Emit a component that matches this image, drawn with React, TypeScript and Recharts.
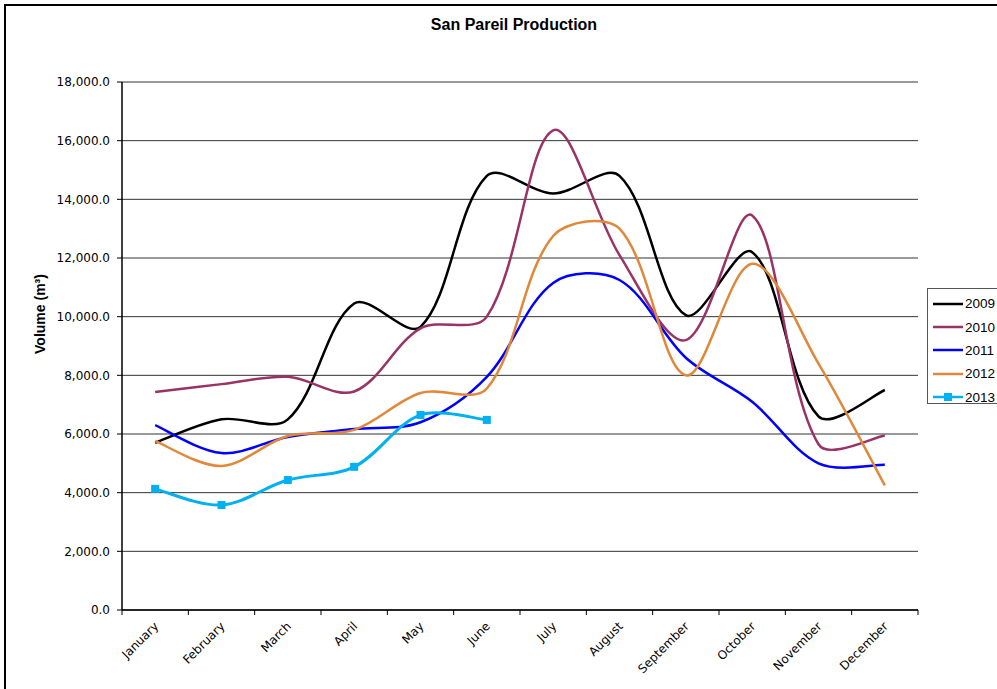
import { LineChart, Line, XAxis, YAxis, CartesianGrid, Legend } from "recharts";

const months = [
  "January",
  "February",
  "March",
  "April",
  "May",
  "June",
  "July",
  "August",
  "September",
  "October",
  "November",
  "December",
];

const y2009 = [5700, 6500, 6500, 10450, 9650, 14800, 14200, 14800, 10050, 12200, 6600, 7500];
const y2010 = [7430, 7700, 7950, 7450, 9600, 10000, 16350, 12100, 9200, 13450, 5650, 5950];
const y2011 = [6300, 5350, 5900, 6170, 6400, 7950, 11150, 11250, 8600, 7100, 5000, 4950];
const y2012 = [5760, 4910, 5930, 6140, 7400, 7550, 12750, 13000, 8000, 11800, 8400, 4250];
const y2013 = [4130, 3580, 4430, 4880, 6650, 6480];

const yTicks = [0, 2000, 4000, 6000, 8000, 10000, 12000, 14000, 16000, 18000];

const series = [
  { key: "2009", color: "#000000" },
  { key: "2010", color: "#993366" },
  { key: "2011", color: "#0000FF" },
  { key: "2012", color: "#E0883A" },
  { key: "2013", color: "#00B0F0" },
];

const data = months.map((month, i) => ({
  month,
  "2009": y2009[i],
  "2010": y2010[i],
  "2011": y2011[i],
  "2012": y2012[i],
  "2013": y2013[i] ?? null,
}));

// excel-ish smoothing: bezier through every point, tangent split by segment length
const excelCurve = (context: any) => {
  let pts: number[][] = [];
  return {
    areaStart() {},
    areaEnd() {},
    lineStart() {
      pts = [];
    },
    point(x: number, y: number) {
      pts.push([+x, +y]);
    },
    lineEnd() {
      const n = pts.length;
      if (!n) return;
      const dist = (a: number[], b: number[]) => Math.hypot(b[0] - a[0], b[1] - a[1]);
      const ctrl = pts.map((p, i) => {
        const prev = pts[i - 1] || p;
        const next = pts[i + 1] || p;
        const lp = dist(prev, p);
        const ln = dist(p, next);
        const dx = next[0] - prev[0];
        const dy = next[1] - prev[1];
        const fo = lp === 0 || ln === 0 ? 0.5 : ln / (lp + ln);
        const fi = lp === 0 || ln === 0 ? 0.5 : lp / (lp + ln);
        return {
          out: [p[0] + (dx * fo) / 3, p[1] + (dy * fo) / 3],
          in: [p[0] - (dx * fi) / 3, p[1] - (dy * fi) / 3],
        };
      });
      context.moveTo(pts[0][0], pts[0][1]);
      for (let i = 0; i < n - 1; i++) {
        const c1 = ctrl[i].out;
        const c2 = ctrl[i + 1].in;
        context.bezierCurveTo(c1[0], c1[1], c2[0], c2[1], pts[i + 1][0], pts[i + 1][1]);
      }
    },
  };
};

const fmt = (v: number) =>
  v.toLocaleString("en-US", { minimumFractionDigits: 1, maximumFractionDigits: 1 });

const MonthTick = (props: any) => {
  const { x, y, payload, index } = props;
  const half = payload.offset || 33;
  const tx = x + 4;
  const ty = y + 17;
  return (
    <g>
      <line x1={x - half} y1={y} x2={x - half} y2={y + 5} stroke="#000" />
      {index === months.length - 1 && (
        <line x1={x + half} y1={y} x2={x + half} y2={y + 5} stroke="#000" />
      )}
      <text
        x={tx}
        y={ty}
        textAnchor="end"
        transform={`rotate(-45 ${tx} ${ty})`}
        fontFamily="DejaVu Sans"
        fontSize={12}
        fill="#000"
      >
        {payload.value}
      </text>
    </g>
  );
};

const LegendBox = () => (
  <div
    style={{
      border: "1px solid #555",
      background: "#fff",
      width: 80,
      height: 116,
      boxSizing: "border-box",
      paddingTop: 3,
    }}
  >
    {series.map((s) => (
      <div
        key={s.key}
        style={{ display: "flex", alignItems: "center", height: 23.4, paddingLeft: 5 }}
      >
        <svg width={32} height={10}>
          <line x1={0} y1={5} x2={30} y2={5} stroke={s.color} strokeWidth={2.5} />
          {s.key === "2013" && <rect x={11} y={1} width={8} height={8} fill={s.color} />}
        </svg>
        <span style={{ fontFamily: "Liberation Sans, Arial", fontSize: 13.5, color: "#000" }}>
          {s.key}
        </span>
      </div>
    ))}
  </div>
);

const SquareDot = (props: any) => {
  const { cx, cy, index } = props;
  if (cx == null || cy == null) return <g key={index} />;
  return <rect key={index} x={cx - 4} y={cy - 4} width={8} height={8} fill="#00B0F0" />;
};

export default function App() {
  return (
    <div
      style={{
        position: "absolute",
        left: 0,
        top: 0,
        width: 997,
        height: 689,
        overflow: "hidden",
        background: "#fff",
      }}
    >
      <div
        style={{
          position: "absolute",
          left: 4,
          top: 4,
          width: 1000,
          height: 700,
          borderTop: "2px solid #000",
          borderLeft: "2px solid #000",
        }}
      />
      <div
        style={{
          position: "absolute",
          left: 0,
          width: 1028,
          top: 16,
          textAlign: "center",
          fontFamily: "Liberation Sans, Arial",
          fontWeight: "bold",
          fontSize: 16,
          color: "#000",
        }}
      >
        San Pareil Production
      </div>
      <LineChart
        width={997}
        height={689}
        data={data}
        margin={{ top: 82, right: 79, bottom: 0, left: 0 }}
      >
        <CartesianGrid vertical={false} stroke="#333" />
        <XAxis
          dataKey="month"
          scale="band"
          interval={0}
          height={79}
          tickSize={0}
          tickMargin={0}
          tick={<MonthTick />}
          axisLine={{ stroke: "#000", strokeWidth: 1.5 }}
        />
        <XAxis
          xAxisId="top"
          orientation="top"
          dataKey="month"
          scale="band"
          height={0}
          tick={false}
          tickLine={false}
          axisLine={{ stroke: "#000", strokeWidth: 1.5 }}
        />
        <YAxis
          width={122}
          domain={[0, 18000]}
          ticks={yTicks}
          tickFormatter={fmt}
          tickSize={5}
          tickMargin={7}
          tickLine={{ stroke: "#000" }}
          axisLine={{ stroke: "#000", strokeWidth: 1.5 }}
          tick={{ fill: "#000", fontSize: 12, fontFamily: "DejaVu Sans" }}
          label={{
            value: "Volume (m³)",
            angle: -90,
            position: "insideLeft",
            dx: 35,
            dy: -32,
            style: {
              fontFamily: "Liberation Sans, Arial",
              fontWeight: "bold",
              fontSize: 14,
              fill: "#000",
              textAnchor: "middle",
            },
          }}
        />
        <YAxis
          yAxisId="right"
          orientation="right"
          width={0}
          tick={false}
          tickLine={false}
          axisLine={{ stroke: "#000", strokeWidth: 1.5 }}
        />
        <Legend
          layout="vertical"
          align="center"
          verticalAlign="middle"
          content={<LegendBox />}
          wrapperStyle={{ left: 927, top: 288, width: 80, height: 116 }}
        />
        {series.slice(0, 4).map((s) => (
          <Line
            key={s.key}
            dataKey={s.key}
            name={s.key}
            type={excelCurve as any}
            stroke={s.color}
            strokeWidth={2.5}
            dot={false}
            activeDot={false}
            isAnimationActive={false}
          />
        ))}
        <Line
          dataKey="2013"
          name="2013"
          type={excelCurve as any}
          stroke="#00B0F0"
          strokeWidth={3}
          dot={<SquareDot />}
          activeDot={false}
          isAnimationActive={false}
        />
      </LineChart>
    </div>
  );
}
